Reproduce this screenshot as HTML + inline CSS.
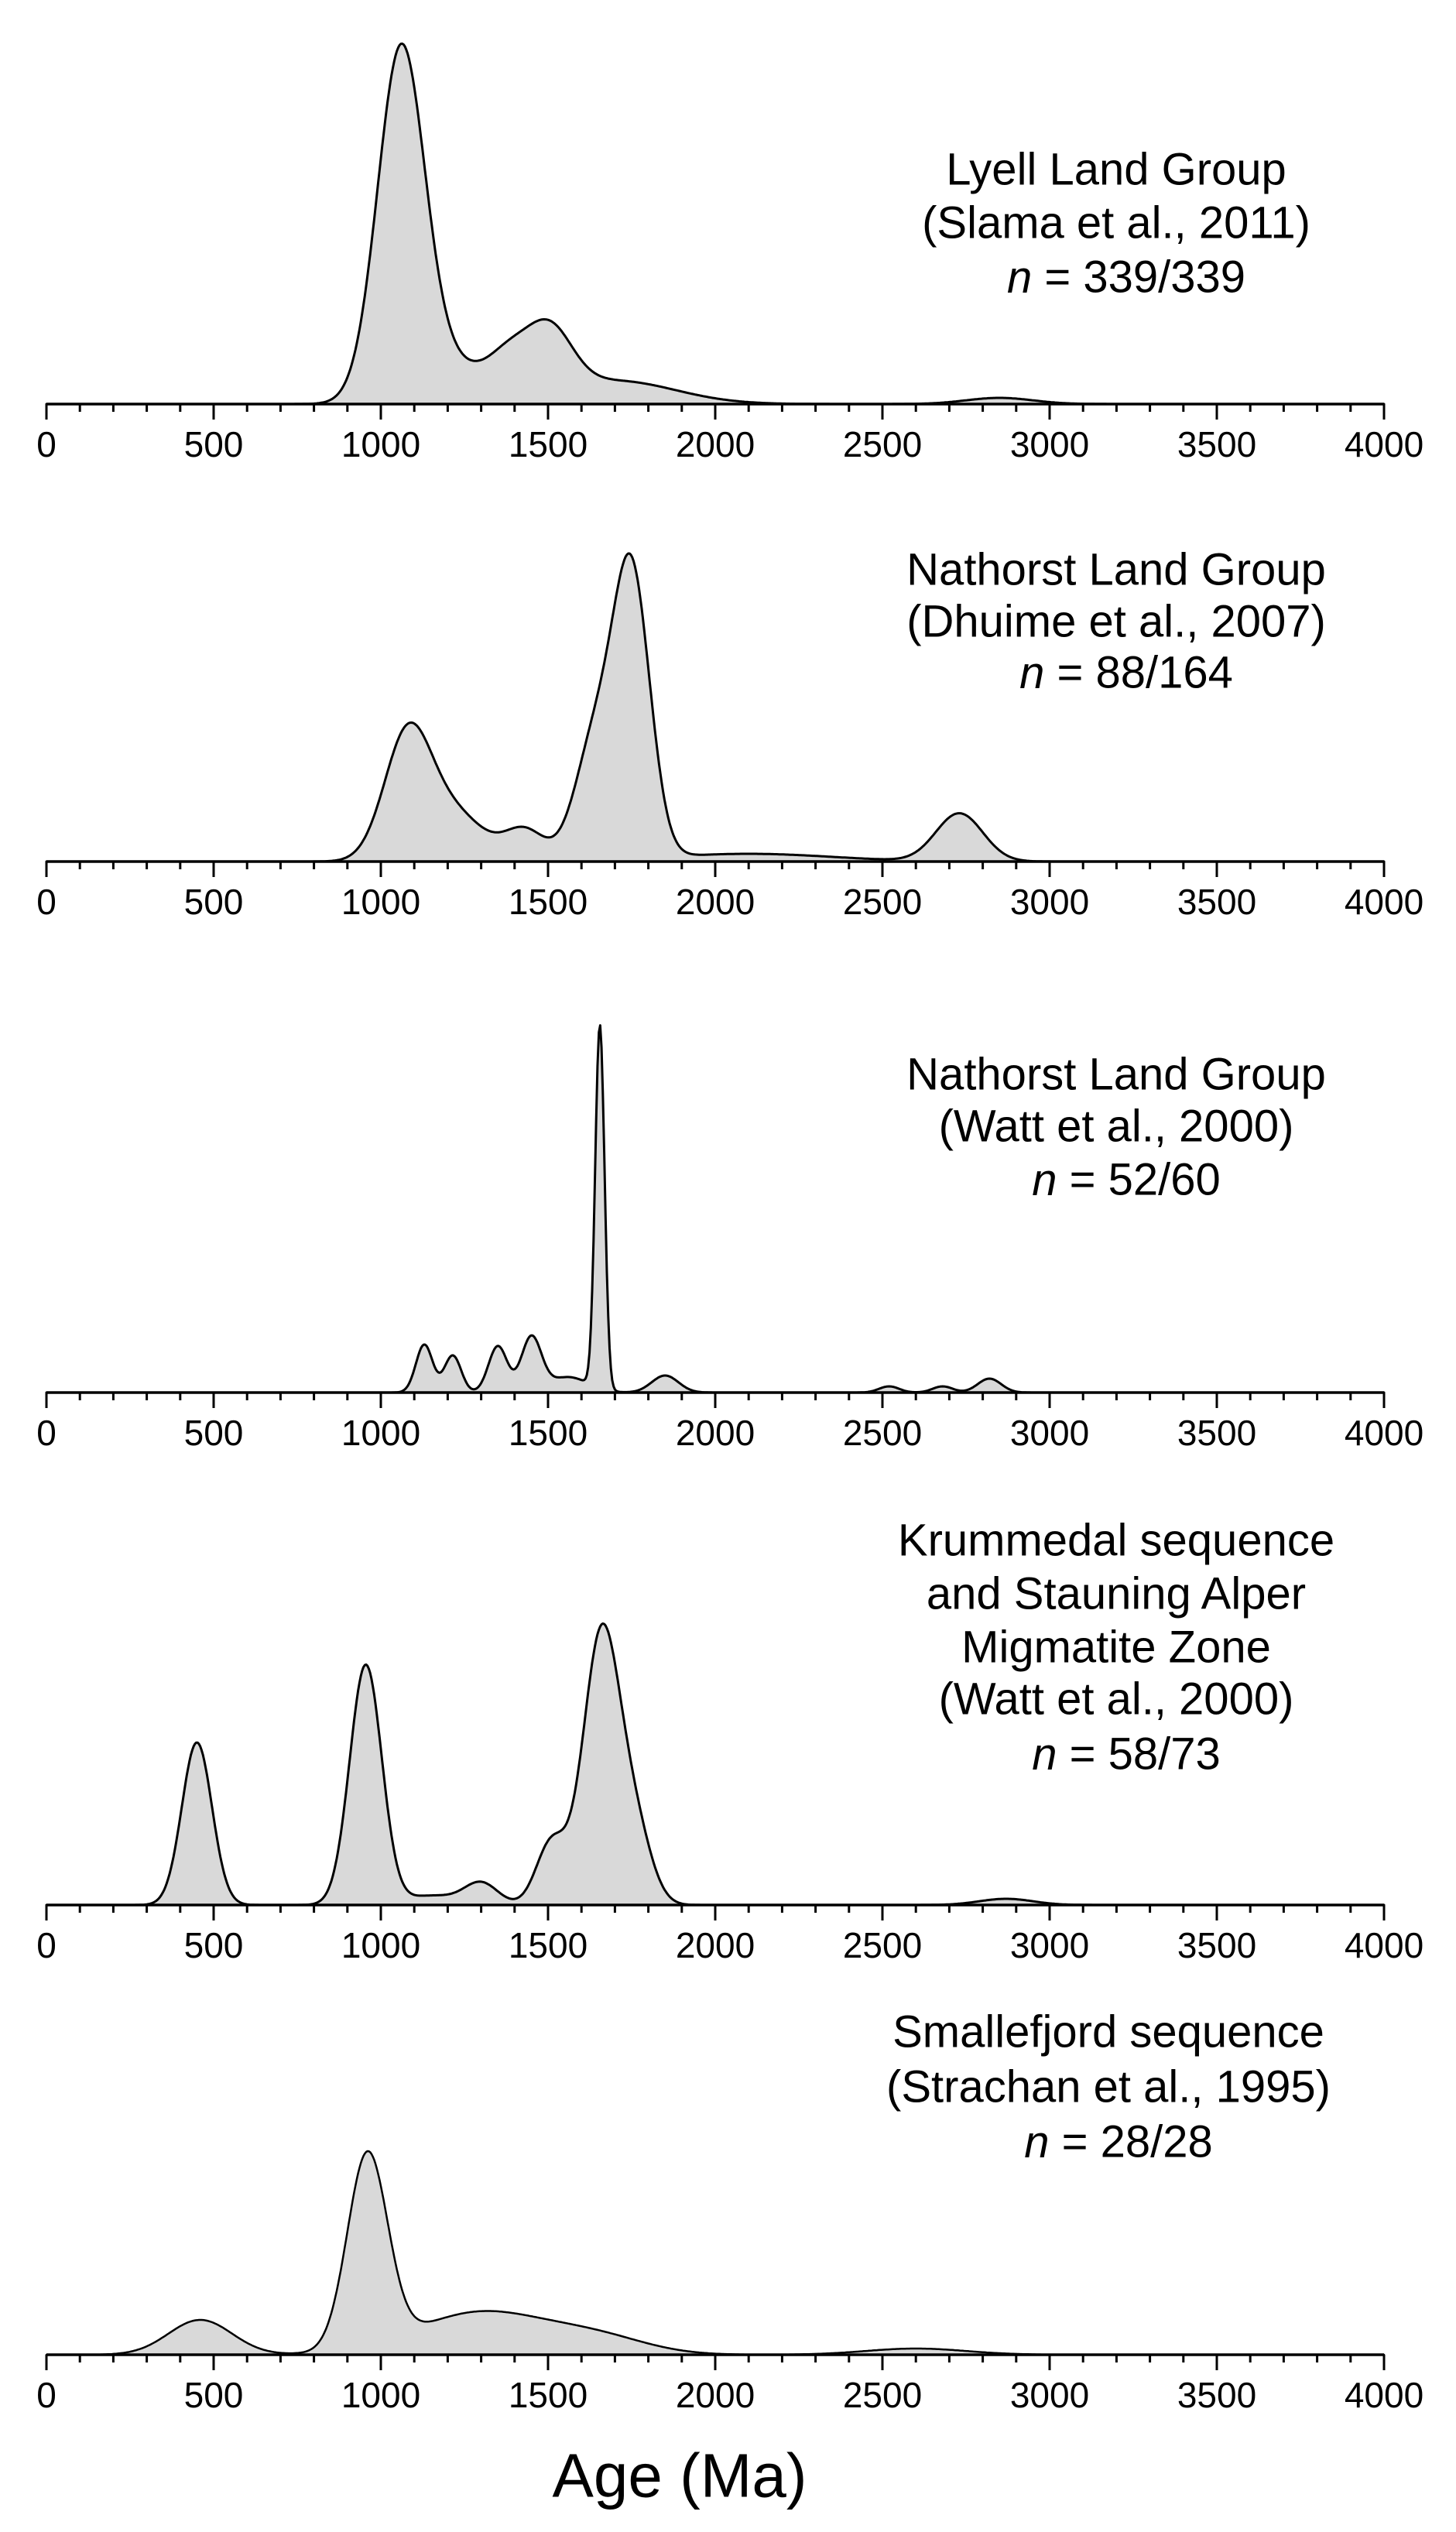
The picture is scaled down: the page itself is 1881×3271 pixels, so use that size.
<!DOCTYPE html>
<html><head><meta charset="utf-8"><style>
html,body{margin:0;padding:0;background:#fff;}
svg{display:block;}
text{font-family:"Liberation Sans",Arial,sans-serif;fill:#000;}
</style></head><body>
<svg id="s" width="1881" height="3271" viewBox="0 0 1881 3271" xmlns="http://www.w3.org/2000/svg">
<g font-size="58" text-anchor="middle" dominant-baseline="central">
<text x="1442" y="219">Lyell Land Group</text>
<text x="1442" y="288">(Slama et al., 2011)</text>
<text x="1455" y="358"><tspan font-style="italic">n</tspan> = 339/339</text>
<text x="1442" y="736">Nathorst Land Group</text>
<text x="1442" y="803">(Dhuime et al., 2007)</text>
<text x="1455" y="869"><tspan font-style="italic">n</tspan> = 88/164</text>
<text x="1442" y="1388">Nathorst Land Group</text>
<text x="1442" y="1455">(Watt et al., 2000)</text>
<text x="1455" y="1524"><tspan font-style="italic">n</tspan> = 52/60</text>
<text x="1442" y="1990">Krummedal sequence</text>
<text x="1442" y="2059">and Stauning Alper</text>
<text x="1442" y="2128">Migmatite Zone</text>
<text x="1442" y="2195">(Watt et al., 2000)</text>
<text x="1455" y="2266"><tspan font-style="italic">n</tspan> = 58/73</text>
<text x="1432" y="2625">Smallefjord sequence</text>
<text x="1432" y="2696">(Strachan et al., 1995)</text>
<text x="1445" y="2767"><tspan font-style="italic">n</tspan> = 28/28</text>
<text x="878" y="3198" font-size="80">Age (Ma)</text>
</g>
<g id="g"></g>
</svg>
<script>
var panels=[
{b:522,sw:3,c:[[1060,70,440],[1200,120,50],[1380,60,40],[1500,70,85],[1700,180,30],[2850,100,8]]},
{b:1113,sw:3,c:[[1080,70,160],[1220,90,60],[1430,60,40],[1640,60,150],[1750,55,363],[2100,250,10],[2730,70,62]]},
{b:1799,sw:3,c:[[1130,25,62],[1215,25,48],[1350,28,60],[1450,30,70],[1560,60,20],[1655,14,470],[1850,40,22],[2520,30,8],[2680,30,8],[2820,35,18]]},
{b:2461,sw:3,c:[[450,45,210],[955,48,310],[1150,80,12],[1300,50,28],[1510,45,80],[1660,55,350],[1760,50,90],[2870,80,8]]},
{b:3042,sw:2.5,c:[[460,95,45],[960,60,250],[1300,200,55],[1650,150,20],[2600,150,8]]}
];
var X0=60,K=0.432,g=document.getElementById('g'),out='';
panels.forEach(function(p){
  var d='M'+X0+' '+p.b;
  for(var a=0;a<=4000;a+=4){
    var h=0;p.c.forEach(function(c){h+=c[2]*Math.exp(-(a-c[0])*(a-c[0])/(2*c[1]*c[1]));});
    d+=' L'+(X0+a*K).toFixed(1)+' '+(p.b-h).toFixed(1);
  }
  d+=' L'+(X0+4000*K)+' '+p.b+' Z';
  out+='<path d="'+d+'" fill="#d9d9d9" stroke="#000" stroke-width="'+p.sw+'" stroke-linejoin="round"/>';
  out+='<line x1="'+X0+'" y1="'+p.b+'" x2="'+(X0+4000*K)+'" y2="'+p.b+'" stroke="#000" stroke-width="3.5"/>';
  for(var t=0;t<=4000;t+=100){
    var x=X0+t*K,maj=t%500==0;
    out+='<line x1="'+x+'" y1="'+p.b+'" x2="'+x+'" y2="'+(p.b+(maj?20:10))+'" stroke="#000" stroke-width="3"/>';
    if(maj)out+='<text x="'+x+'" y="'+(p.b+52)+'" font-size="46" text-anchor="middle" dominant-baseline="central">'+t+'</text>';
  }
});
g.innerHTML=out;
</script>
</body></html>
